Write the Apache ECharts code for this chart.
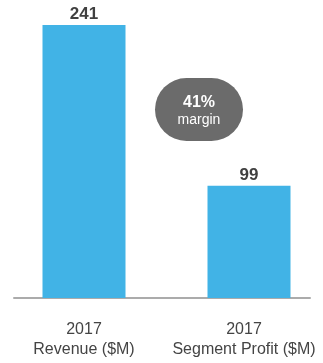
<!DOCTYPE html>
<html>
<head>
<meta charset="utf-8">
<style>
  html, body { margin: 0; padding: 0; background: #ffffff; }
  #chart { width: 323px; height: 363px; }
</style>
<script src="https://cdn.jsdelivr.net/npm/echarts@6/dist/echarts.min.js"></script>
</head>
<body>
<div id="chart"></div>
<script>
// Revenue vs. segment profit, 2017
const categories = ['2017\nRevenue ($M)', '2017\nSegment Profit ($M)'];
const values = [241, 99];

const FONT = '"Liberation Sans", Arial, sans-serif';
const marginPct = Math.round(values[1] / values[0] * 100);

// keep the wide right-hand label inside the canvas edge
const categoryData = categories.map((name, i) => ({
  value: name,
  textStyle: i === categories.length - 1 ? { padding: [0, 10, 0, 0] } : {}
}));

const chart = echarts.init(document.getElementById('chart'), null, { renderer: 'canvas' });

chart.setOption({
  animation: false,
  backgroundColor: '#ffffff',
  grid: [
    // bars and category labels
    { left: 1.5, width: 330, top: 25, bottom: 65, outerBoundsMode: 'none', containLabel: false },
    // baseline rule
    { left: 14, width: 296, top: 25, bottom: 65, outerBoundsMode: 'none', containLabel: false }
  ],
  xAxis: [
    {
      type: 'category',
      gridIndex: 0,
      data: categoryData,
      axisLine: { show: false },
      axisTick: { show: false },
      axisLabel: {
        interval: 0,
        margin: 22,
        color: '#444444',
        fontFamily: FONT,
        fontSize: 16,
        lineHeight: 20
      }
    },
    {
      type: 'category',
      gridIndex: 1,
      data: ['', ''],
      axisLine: { show: true, lineStyle: { color: '#ababab', width: 2 } },
      axisTick: { show: false },
      axisLabel: { show: false }
    }
  ],
  yAxis: [
    { type: 'value', gridIndex: 0, min: 0, max: 241, show: false },
    { type: 'value', gridIndex: 1, min: 0, max: 241, show: false }
  ],
  series: [
    {
      type: 'bar',
      xAxisIndex: 0,
      yAxisIndex: 0,
      data: values,
      barWidth: 83,
      itemStyle: { color: '#41b3e6' },
      label: {
        show: true,
        position: 'top',
        distance: 2,
        color: '#404040',
        fontFamily: FONT,
        fontWeight: 'bold',
        fontSize: 17
      }
    }
  ],
  graphic: [
    {
      type: 'group',
      left: 155,
      top: 78,
      children: [
        {
          type: 'rect',
          shape: { x: 0, y: 0, width: 88, height: 63, r: 31.5 },
          style: { fill: '#6b6b6b' }
        },
        {
          type: 'text',
          x: 44,
          y: 25,
          style: {
            text: marginPct + '%',
            fill: '#ffffff',
            font: 'bold 16px ' + FONT,
            align: 'center',
            verticalAlign: 'middle'
          }
        },
        {
          type: 'text',
          x: 44,
          y: 42,
          style: {
            text: 'margin',
            fill: '#ffffff',
            font: '14px ' + FONT,
            align: 'center',
            verticalAlign: 'middle'
          }
        }
      ]
    }
  ]
});
</script>
</body>
</html>
